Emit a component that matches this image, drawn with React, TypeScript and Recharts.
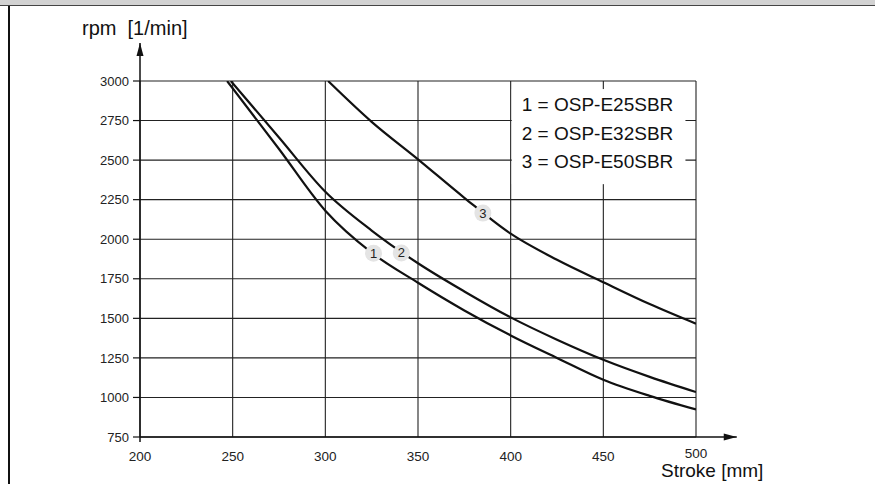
import React, { useEffect } from 'react';
import {
  LineChart,
  Line,
  XAxis,
  YAxis,
  CartesianGrid,
  ReferenceLine,
  ReferenceArea,
  ReferenceDot,
  Label,
} from 'recharts';

// axis ticks
const strokeTicks = [200, 250, 300, 350, 400, 450, 500];
const rpmTicks = [750, 1000, 1250, 1500, 1750, 2000, 2250, 2500, 2750, 3000];

// curve 1 = OSP-E25SBR
const e25Stroke = [247, 275, 300, 325, 350, 375, 400, 425, 450, 475, 500];
const e25Rpm = [3000, 2570, 2180, 1915, 1725, 1550, 1392, 1250, 1112, 1010, 924];
// curve 2 = OSP-E32SBR
const e32Stroke = [249, 275, 300, 325, 350, 375, 400, 425, 450, 475, 500];
const e32Rpm = [3000, 2643, 2300, 2055, 1848, 1670, 1506, 1365, 1238, 1130, 1034];
// curve 3 = OSP-E50SBR
const e50Stroke = [301.5, 325, 350, 375, 400, 425, 450, 475, 500];
const e50Rpm = [3000, 2742, 2505, 2262, 2035, 1870, 1728, 1590, 1466];

const legendLines = ['1 = OSP-E25SBR', '2 = OSP-E32SBR', '3 = OSP-E50SBR'];
const tagNames = ['1', '2', '3'];
const tagStroke = [326, 341, 385];
const tagRpm = [1911, 1913, 2165];

const toRows = (xs: number[], ys: number[]) => xs.map((x, i) => ({ stroke: x, rpm: ys[i] }));

const FONT = '"Liberation Sans", Arial, Helvetica, sans-serif';
const INK = '#111';

const AxisArrow = (props: any) => {
  const { x1, y1, x2, y2 } = props;
  const horizontal = Math.abs(x2 - x1) > Math.abs(y2 - y1);
  const head = horizontal
    ? `${x2},${y2} ${x2 - 13},${y2 - 3.5} ${x2 - 13},${y2 + 3.5}`
    : `${x2},${y2} ${x2 - 3.5},${y2 + 13} ${x2 + 3.5},${y2 + 13}`;
  return (
    <g>
      <line x1={x1} y1={y1} x2={x2} y2={y2} stroke={INK} strokeWidth={1.5} />
      <polygon points={head} fill={INK} />
    </g>
  );
};

const LegendBox = (props: any) => {
  const { x, y, width, height } = props;
  return (
    <g>
      <rect x={x} y={y} width={width} height={height} fill="#fff" />
      {legendLines.map((t, i) => (
        <text key={t} x={x + 10} y={y + 22 + i * 28.5} fontSize={19} fontFamily={FONT} fill={INK}>
          {t}
        </text>
      ))}
    </g>
  );
};

const makeTag = (name: string) => (props: any) => {
  const { cx, cy } = props;
  return (
    <g>
      <circle cx={cx} cy={cy} r={8.5} fill="#e4e4e4" />
      <text x={cx} y={cy + 4.5} textAnchor="middle" fontSize={13} fontFamily={FONT} fill="#222">
        {name}
      </text>
    </g>
  );
};

const StrokeTick = (props: any) => {
  const { x, y, payload } = props;
  const last = payload.value === 500;
  return (
    <text x={x} y={y + (last ? 21 : 24)} textAnchor="middle" fontSize={13.5} fontFamily={FONT} fill="#222">
      {payload.value}
    </text>
  );
};

export default function App() {
  useEffect(() => {
    document.documentElement.style.overflow = 'hidden';
    document.body.style.overflow = 'hidden';
    document.body.style.margin = '0';
  }, []);

  return (
    <div style={{ position: 'fixed', left: 0, top: 0, width: 875, height: 484, background: '#fff', overflow: 'hidden' }}>
      <div style={{ position: 'absolute', left: 0, top: 0, width: 875, height: 5, background: '#d2d2d2', borderBottom: '1.5px solid #444' }} />
      <div style={{ position: 'absolute', left: 8, top: 6, width: 1.6, height: 478, background: INK }} />
      <div style={{ position: 'absolute', left: 0, top: 0 }}>
        <LineChart width={875} height={484} margin={{ top: 81, right: 179, bottom: 17, left: 80 }}>
          <CartesianGrid stroke="#222" strokeWidth={1.1} />
          <XAxis
            type="number"
            dataKey="stroke"
            domain={[200, 500]}
            ticks={strokeTicks}
            allowDataOverflow
            axisLine={false}
            tickLine={false}
            tickSize={0}
            tickMargin={0}
            height={30}
            tick={<StrokeTick />}
          >
            <Label
              content={(p: any) => (
                <text x={p.viewBox.x + p.viewBox.width - 35} y={p.viewBox.y + 40} fontSize={19} fontFamily={FONT} fill={INK}>
                  Stroke [mm]
                </text>
              )}
            />
          </XAxis>
          <YAxis
            type="number"
            domain={[750, 3000]}
            ticks={rpmTicks}
            allowDataOverflow
            width={60}
            axisLine={false}
            tickSize={7}
            tickMargin={4}
            tickLine={{ stroke: INK, strokeWidth: 1.2 }}
            tick={{ fontSize: 13, fontFamily: FONT, fill: '#222' }}
          >
            <Label
              content={(p: any) => (
                <text x={p.viewBox.x + 2} y={p.viewBox.y - 46} fontSize={20} fontFamily={FONT} fill={INK} style={{ whiteSpace: 'pre' }}>
                  {'rpm  [1/min]'}
                </text>
              )}
            />
          </YAxis>
          <ReferenceArea x1={400.6} x2={494.3} y1={2348} y2={2949} shape={<LegendBox />} />
          <ReferenceLine segment={[{ x: 200, y: 750 }, { x: 522, y: 750 }]} ifOverflow="visible" shape={<AxisArrow />} />
          <ReferenceLine segment={[{ x: 200, y: 718 }, { x: 200, y: 3240 }]} ifOverflow="visible" shape={<AxisArrow />} />
          <Line data={toRows(e25Stroke, e25Rpm)} dataKey="rpm" type="monotone" stroke={INK} strokeWidth={2.2} dot={false} isAnimationActive={false} />
          <Line data={toRows(e32Stroke, e32Rpm)} dataKey="rpm" type="monotone" stroke={INK} strokeWidth={2.2} dot={false} isAnimationActive={false} />
          <Line data={toRows(e50Stroke, e50Rpm)} dataKey="rpm" type="monotone" stroke={INK} strokeWidth={2.2} dot={false} isAnimationActive={false} />
          {tagNames.map((n, i) => (
            <ReferenceDot key={n} x={tagStroke[i]} y={tagRpm[i]} r={8.5} shape={makeTag(n)} />
          ))}
        </LineChart>
      </div>
    </div>
  );
}
